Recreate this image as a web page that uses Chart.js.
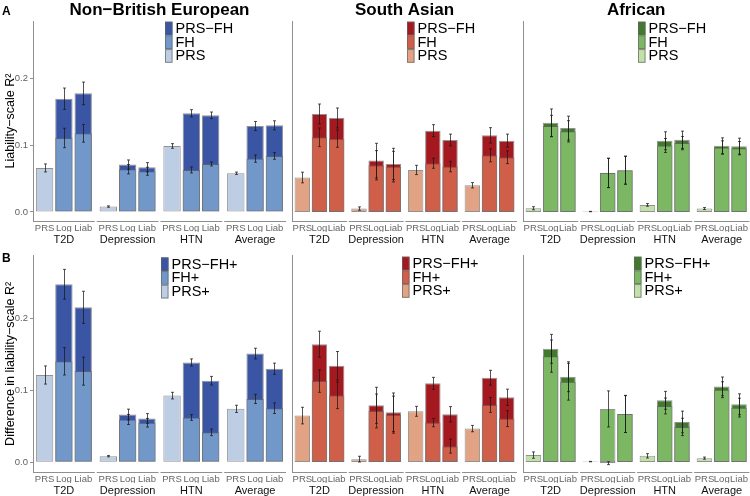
<!DOCTYPE html>
<html>
<head>
<meta charset="utf-8">
<script src="https://cdn.jsdelivr.net/npm/chart.js@4.4.1/dist/chart.umd.min.js"></script>
<style>
  body { margin: 0; background: #fff; }
  #wrap { position: relative; width: 750px; height: 496px; overflow: hidden; }
  canvas { position: absolute; }
</style>
</head>
<body>
<div id="wrap"></div>
<script>
const groups = ["T2D", "Depression", "HTN", "Average"];
const barNames = ["PRS", "Log", "Liab"];
const yTicks = [0, 0.1, 0.2];

// row A: liability-scale R2
// PRS arrays have one value per group, FH / PRS-FH arrays have [Log, Liab] per group
const aEurPrs = [0.066, 0.008, 0.099, 0.058];
const aEurPrsErr = [0.006, 0.001, 0.0035, 0.0018];
const aEurFh = [0.111, 0.118, 0.064, 0.061, 0.063, 0.072, 0.080, 0.084];
const aEurFhErr = [0.0146, 0.0133, 0.007, 0.006, 0.0045, 0.003, 0.0055, 0.005];
const aEurBoth = [0.170, 0.178, 0.071, 0.067, 0.148, 0.145, 0.129, 0.130];
const aEurBothErr = [0.016, 0.017, 0.007, 0.007, 0.0055, 0.005, 0.0068, 0.0068];

const aSasPrs = [0.0516, 0.005, 0.063, 0.040];
const aSasPrsErr = [0.008, 0.0025, 0.007, 0.004];
const aSasFh = [0.112, 0.110, 0.070, 0.068, 0.073, 0.068, 0.085, 0.082];
const aSasFhErr = [0.014, 0.013, 0.022, 0.023, 0.0075, 0.0078, 0.0098, 0.0095];
const aSasBoth = [0.147, 0.141, 0.077, 0.072, 0.122, 0.108, 0.115, 0.107];
const aSasBothErr = [0.015, 0.015, 0.026, 0.0235, 0.009, 0.0088, 0.0115, 0.0098];

const aAfrPrs = [0.0055, 0.0005, 0.0105, 0.005];
const aAfrPrsErr = [0.0023, 0.0003, 0.002, 0.0015];
const aAfrFh = [0.129, 0.121, 0.0584, 0.0625, 0.0997, 0.1033, 0.0967, 0.0957];
const aAfrFhErr = [0.016, 0.016, 0.022, 0.021, 0.0105, 0.010, 0.010, 0.010];
const aAfrBoth = [0.1338, 0.1258, 0.0586, 0.0627, 0.1068, 0.1083, 0.0992, 0.0987];
const aAfrBothErr = [0.0208, 0.018, 0.022, 0.021, 0.0135, 0.013, 0.012, 0.012];

// row B: difference in liability-scale R2
const bEurPrs = [0.121, 0.0083, 0.0924, 0.074];
const bEurPrsErr = [0.0126, 0.001, 0.0046, 0.005];
const bEurFh = [0.140, 0.1264, 0.0593, 0.0547, 0.062, 0.0414, 0.0878, 0.0749];
const bEurFhErr = [0.019, 0.0195, 0.007, 0.006, 0.004, 0.0046, 0.0064, 0.0074];
const bEurBoth = [0.247, 0.215, 0.0662, 0.0607, 0.1384, 0.1131, 0.1508, 0.1297];
const bEurBothErr = [0.0207, 0.0223, 0.0074, 0.0067, 0.005, 0.006, 0.0074, 0.0078];

const bSasPrs = [0.0644, 0.0041, 0.0703, 0.0464];
const bSasPrsErr = [0.0115, 0.004, 0.0069, 0.0044];
const bSasFh = [0.1122, 0.0924, 0.0708, 0.0657, 0.0547, 0.0221, 0.0791, 0.0602];
const bSasFhErr = [0.0156, 0.0184, 0.0234, 0.0257, 0.0058, 0.0097, 0.0103, 0.011];
const bSasBoth = [0.1632, 0.1333, 0.0786, 0.069, 0.109, 0.0662, 0.1168, 0.0897];
const bSasBothErr = [0.018, 0.0198, 0.025, 0.0267, 0.0083, 0.0106, 0.0103, 0.0113];

const bAfrPrs = [0.0097, 0.0007, 0.0087, 0.0055];
const bAfrPrsErr = [0.0044, 0.0003, 0.003, 0.0015];
const bAfrFh = [0.1467, 0.1113, 0.0736, 0.0665, 0.0777, 0.0487, 0.1002, 0.0754];
const bAfrFhErr = [0.0223, 0.0255, 0.025, 0.0255, 0.011, 0.012, 0.011, 0.013];
const bAfrBoth = [0.1568, 0.1182, -0.0015, 0.0667, 0.0855, 0.0556, 0.1048, 0.080];
const bAfrBothErr = [0.020, 0.0207, 0.002, 0.0257, 0.0124, 0.015, 0.013, 0.0145];

const FONT = "'Liberation Sans', Arial, sans-serif";
const AXIS_COLOR = "#8f8f8f";
const BAR_BORDER = "rgba(100,100,100,0.7)";
const G = 3.3; // distance between disease groups, in bar steps

const blue = { dark: "#3a55a4", mid: "#7198c8", light: "#bdcde3" };
const red = { dark: "#a3191f", mid: "#d05f49", light: "#e2a385" };
const green = { dark: "#43792f", mid: "#7cb763", light: "#c2e1a9" };

const prsX = groups.map((g, i) => i * G);
const fhX = groups.flatMap((g, i) => [i * G + 1, i * G + 2]);
const tickX = groups.flatMap((g, i) => [i * G, i * G + 1, i * G + 2]);
const groupX = groups.map((g, i) => i * G + 1);

// error bars + facet axis lines + title + legend
const panelDecor = {
  id: "panelDecor",
  afterDatasetsDraw(chart) {
    const ctx = chart.ctx;
    const ys = chart.scales.y;
    ctx.save();
    ctx.strokeStyle = "rgba(25,25,25,0.75)";
    ctx.lineWidth = 1;
    [1, 0, 2].forEach((di) => {
      const ds = chart.data.datasets[di];
      const meta = chart.getDatasetMeta(di);
      meta.data.forEach((bar, i) => {
        const v = ds.data[i].y;
        const e = ds.errors[i];
        const x = Math.round(bar.x) + 0.5;
        const y1 = ys.getPixelForValue(v - e);
        const y2 = ys.getPixelForValue(v + e);
        ctx.beginPath();
        ctx.moveTo(x, y1); ctx.lineTo(x, y2);
        ctx.moveTo(x - 1.5, y1); ctx.lineTo(x + 1.5, y1);
        ctx.moveTo(x - 1.5, y2); ctx.lineTo(x + 1.5, y2);
        ctx.stroke();
      });
    });
    ctx.restore();
  },
  afterDraw(chart, args, opts) {
    const { ctx, chartArea } = chart;
    const xs = chart.scales.x;
    ctx.save();
    // separate axis line under each disease group
    ctx.strokeStyle = AXIS_COLOR;
    ctx.lineWidth = 1;
    groups.forEach((g, i) => {
      const a = xs.getPixelForValue(i * G - 0.6);
      const b = xs.getPixelForValue(i * G + 2.6);
      ctx.beginPath();
      ctx.moveTo(a, chartArea.bottom + 0.5);
      ctx.lineTo(b, chartArea.bottom + 0.5);
      ctx.stroke();
    });
    ctx.fillStyle = "#000";
    if (opts.title) {
      ctx.font = "bold 17px " + FONT;
      ctx.textAlign = "center";
      ctx.textBaseline = "middle";
      ctx.fillText(opts.title, (chartArea.left + chartArea.right) / 2, chartArea.top - 11);
    }
    if (opts.letter) {
      ctx.font = "bold 12px " + FONT;
      ctx.textAlign = "left";
      ctx.textBaseline = "middle";
      ctx.fillText(opts.letter, 2, opts.letterY);
    }
    // legend: PRS-FH, FH, PRS from top
    const ds = chart.data.datasets;
    const items = [ds[1], ds[0], ds[2]];
    const lx = chartArea.left + opts.legendX;
    const rowH = 13.7;
    items.forEach((d, i) => {
      const top = chartArea.top + opts.legendY + i * rowH;
      ctx.fillStyle = d.backgroundColor;
      ctx.fillRect(lx, top, 7.5, rowH);
      ctx.strokeStyle = BAR_BORDER;
      ctx.strokeRect(lx + 0.5, top + 0.5, 6.5, rowH - 1);
      ctx.fillStyle = "#000";
      ctx.font = "14.5px " + FONT;
      ctx.textAlign = "left";
      ctx.textBaseline = "middle";
      ctx.fillText(d.label, lx + 10.5, top + rowH / 2 + 0.5);
    });
    ctx.restore();
  },
};

function makePanel(p) {
  const canvas = document.createElement("canvas");
  canvas.width = p.w;
  canvas.height = p.h;
  canvas.style.left = p.left + "px";
  canvas.style.top = p.top + "px";
  document.getElementById("wrap").appendChild(canvas);

  const sfx = p.plus ? "+" : "";
  const datasets = [
    {
      label: "FH" + sfx,
      data: fhX.map((x, i) => ({ x: x, y: p.fh[i] })),
      errors: p.fhErr,
      backgroundColor: p.color.mid,
    },
    {
      label: "PRS\u2212FH" + sfx,
      data: fhX.map((x, i) => ({ x: x, y: p.both[i] })),
      errors: p.bothErr,
      backgroundColor: p.color.dark,
    },
    {
      label: "PRS" + sfx,
      data: prsX.map((x, i) => ({ x: x, y: p.prs[i] })),
      errors: p.prsErr,
      backgroundColor: p.color.light,
    },
  ];

  new Chart(canvas, {
    type: "bar",
    data: { datasets: datasets },
    plugins: [panelDecor],
    options: {
      responsive: false,
      animation: false,
      devicePixelRatio: 1,
      layout: { padding: p.padding },
      datasets: {
        bar: {
          grouped: false,
          categoryPercentage: 1,
          barPercentage: 0.9,
          borderWidth: 1,
          borderColor: BAR_BORDER,
          borderSkipped: false,
        },
      },
      plugins: {
        legend: { display: false },
        tooltip: { enabled: false },
        panelDecor: {
          title: p.title,
          letter: p.letter,
          letterY: p.letterY,
          legendX: p.legendX,
          legendY: p.legendY,
        },
      },
      scales: {
        x: {
          type: "linear",
          position: "bottom",
          weight: 1,
          offset: false,
          min: -0.6,
          max: 3 * G + 2.6,
          grid: { display: false, drawTicks: false },
          border: { display: false },
          afterBuildTicks: (s) => { s.ticks = tickX.map((v) => ({ value: v })); },
          afterFit: (s) => { s.height = 11; },
          ticks: {
            autoSkip: false,
            maxRotation: 0,
            minRotation: 0,
            padding: 2,
            color: "#666",
            font: { family: FONT, size: 9.5 },
            callback: (v, i) => barNames[i % 3],
          },
        },
        x2: {
          type: "linear",
          position: "bottom",
          weight: 2,
          offset: false,
          min: -0.6,
          max: 3 * G + 2.6,
          grid: { display: false, drawTicks: false },
          border: { display: false },
          afterBuildTicks: (s) => { s.ticks = groupX.map((v) => ({ value: v })); },
          afterFit: (s) => { s.height = 13; },
          ticks: {
            autoSkip: false,
            maxRotation: 0,
            minRotation: 0,
            padding: 1,
            color: "#111",
            font: { family: FONT, size: 11 },
            callback: (v, i) => groups[i],
          },
        },
        y: {
          type: "linear",
          min: -0.0137,
          max: 0.2867,
          grid: {
            display: p.yLabel ? true : false,
            drawOnChartArea: false,
            tickLength: 3,
            color: AXIS_COLOR,
          },
          border: { display: true, color: AXIS_COLOR, width: 1 },
          afterBuildTicks: (s) => { s.ticks = yTicks.map((v) => ({ value: v })); },
          afterFit: (s) => { s.width = p.yWidth; },
          ticks: {
            display: p.yLabel ? true : false,
            padding: 2,
            color: "#5f5f5f",
            font: { family: FONT, size: 9.5 },
            callback: (v) => v.toFixed(1),
          },
          title: {
            display: p.yLabel ? true : false,
            text: p.yLabel || "",
            color: "#000",
            font: { family: FONT, size: 12.5 },
            padding: { top: 3, bottom: 0 },
          },
        },
      },
    },
  });
}

const topPad = { top: 21, bottom: 3 };
const botPad = { top: 7, bottom: 0 };

makePanel({ left: 0, top: 0, w: 288, h: 248, padding: { ...topPad, left: 0, right: 2 }, yWidth: 33,
  yLabel: "Liability\u2212scale R\u00b2", title: "Non\u2212British European", letter: "A", letterY: 12,
  legendX: 132, legendY: 0.7, color: blue,
  prs: aEurPrs, prsErr: aEurPrsErr, fh: aEurFh, fhErr: aEurFhErr, both: aEurBoth, bothErr: aEurBothErr });
makePanel({ left: 288, top: 0, w: 231, h: 248, padding: { ...topPad, left: 0, right: 2 }, yWidth: 4,
  title: "South Asian", legendX: 115, legendY: 0.7, color: red,
  prs: aSasPrs, prsErr: aSasPrsErr, fh: aSasFh, fhErr: aSasFhErr, both: aSasBoth, bothErr: aSasBothErr });
makePanel({ left: 519, top: 0, w: 231, h: 248, padding: { ...topPad, left: 0, right: 0 }, yWidth: 4,
  title: "African", legendX: 115, legendY: 0.7, color: green,
  prs: aAfrPrs, prsErr: aAfrPrsErr, fh: aAfrFh, fhErr: aAfrFhErr, both: aAfrBoth, bothErr: aAfrBothErr });

makePanel({ left: 0, top: 248, w: 288, h: 248, padding: { ...botPad, left: 0, right: 2 }, yWidth: 33, plus: true,
  yLabel: "Difference in liability\u2212scale R\u00b2", letter: "B", letterY: 11,
  legendX: 128, legendY: 1.7, color: blue,
  prs: bEurPrs, prsErr: bEurPrsErr, fh: bEurFh, fhErr: bEurFhErr, both: bEurBoth, bothErr: bEurBothErr });
makePanel({ left: 288, top: 248, w: 231, h: 248, padding: { ...botPad, left: 0, right: 2 }, yWidth: 4, plus: true,
  legendX: 110, legendY: 1.7, color: red,
  prs: bSasPrs, prsErr: bSasPrsErr, fh: bSasFh, fhErr: bSasFhErr, both: bSasBoth, bothErr: bSasBothErr });
makePanel({ left: 519, top: 248, w: 231, h: 248, padding: { ...botPad, left: 0, right: 0 }, yWidth: 4, plus: true,
  legendX: 111, legendY: 1.7, color: green,
  prs: bAfrPrs, prsErr: bAfrPrsErr, fh: bAfrFh, fhErr: bAfrFhErr, both: bAfrBoth, bothErr: bAfrBothErr });
</script>
</body>
</html>
